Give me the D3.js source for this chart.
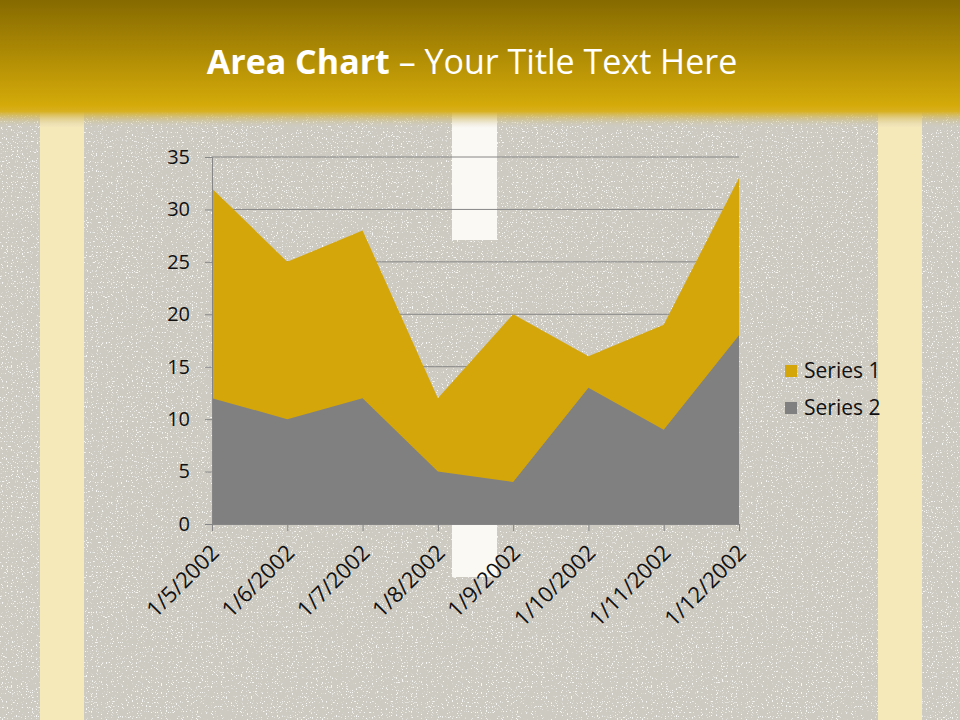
<!DOCTYPE html>
<html><head><meta charset="utf-8">
<script src="https://cdn.jsdelivr.net/npm/d3@7"></script>
<style>html,body{margin:0;padding:0;background:#cfccc3;}svg{display:block;}</style>
</head><body>
<script>
const categories = ["1/5/2002","1/6/2002","1/7/2002","1/8/2002","1/9/2002","1/10/2002","1/11/2002","1/12/2002"];
const series1 = [32, 25, 28, 12, 20, 16, 19, 33];
const series2 = [12, 10, 12, 5, 4, 13, 9, 18];
const seriesNames = ["Series 1", "Series 2"];
const yTicks = [0, 5, 10, 15, 20, 25, 30, 35];

const W = 960, H = 720;
const svg = d3.select("body").append("svg").attr("width", W).attr("height", H);
const defs = svg.append("defs");

// header gradient
const hg = defs.append("linearGradient").attr("id","hdr").attr("x1",0).attr("y1",0).attr("x2",0).attr("y2",1);
hg.append("stop").attr("offset","0%").attr("stop-color","#866a00");
hg.append("stop").attr("offset","82%").attr("stop-color","#d4aa09");
hg.append("stop").attr("offset","87%").attr("stop-color","#d8b020");
hg.append("stop").attr("offset","100%").attr("stop-color","#cfccc3").attr("stop-opacity",0);

// speckle filter
const f = defs.append("filter").attr("id","speck").attr("x",0).attr("y",0).attr("width","100%").attr("height","100%");
f.append("feTurbulence").attr("type","fractalNoise").attr("baseFrequency",0.8).attr("numOctaves",1).attr("seed",7).attr("result","n");
f.append("feColorMatrix").attr("in","n").attr("type","matrix")
  .attr("values","0 0 0 0 1  0 0 0 0 1  0 0 0 0 1  12 0 0 0 -7.4");

// background
svg.append("rect").attr("width",W).attr("height",H).attr("fill","#cdcac1");
svg.append("rect").attr("width",W).attr("height",H).attr("filter","url(#speck)").attr("opacity",0.85);
// yellow side stripes
svg.append("rect").attr("x",40).attr("y",0).attr("width",44).attr("height",H).attr("fill","#f6e9b9");
svg.append("rect").attr("x",878).attr("y",0).attr("width",44).attr("height",H).attr("fill","#f6e9b9");
// white center dashes
svg.append("rect").attr("x",452).attr("y",100).attr("width",45).attr("height",140).attr("fill","#fbf9f4");
svg.append("rect").attr("x",452).attr("y",440).attr("width",45).attr("height",137).attr("fill","#fbf9f4");

// header
svg.append("rect").attr("x",0).attr("y",0).attr("width",W).attr("height",128).attr("fill","url(#hdr)");

const title = svg.append("text").attr("x",472).attr("y",74).attr("text-anchor","middle")
  .attr("font-family","'Open Sans', sans-serif").attr("font-size",34).attr("fill","#ffffff");
title.append("tspan").attr("font-weight","bold").text("Area Chart");
title.append("tspan").text(" \u2013 Your Title Text Here");

// chart
const x = d3.scalePoint().domain(categories).range([212, 739]);
const y = d3.scaleLinear().domain([0, 35]).range([524, 157]);
const fontF = "'Open Sans', sans-serif";

// gridlines
svg.append("g").selectAll("line").data(yTicks.filter(d => d > 0)).join("line")
  .attr("x1", 212).attr("x2", 739).attr("y1", d => y(d)).attr("y2", d => y(d))
  .attr("stroke", "#868686").attr("stroke-width", 1);

const area = d3.area().x((d, i) => x(categories[i])).y0(y(0)).y1(d => y(d));
svg.append("path").datum(series1).attr("d", area).attr("fill", "#d4a60a");
svg.append("path").datum(series2).attr("d", area).attr("fill", "#808080");

// y axis
const yAxis = svg.append("g").attr("transform", "translate(212,0)")
  .call(d3.axisLeft(y).tickValues(yTicks).tickSize(7).tickPadding(15));
yAxis.select(".domain").attr("stroke", "#868686");
yAxis.selectAll(".tick line").attr("stroke", "#868686");
yAxis.selectAll(".tick text").attr("font-family", fontF).attr("font-size", 20).attr("fill", "#111");

// x axis
const xAxis = svg.append("g").attr("transform", "translate(0,524)")
  .call(d3.axisBottom(x).tickSize(7).tickSizeOuter(0));
xAxis.select(".domain").attr("stroke", "#868686");
xAxis.selectAll(".tick line").attr("stroke", "#868686");
xAxis.selectAll(".tick text").attr("font-family", fontF).attr("font-size", 22).attr("fill", "#111")
  .attr("text-anchor", "end").attr("dy", null).attr("y", 0)
  .attr("transform", "translate(8,30) rotate(-45)");

// legend
const colors = ["#d4a60a", "#808080"];
const lg = svg.append("g");
seriesNames.forEach((n, i) => {
  const yy = 371 + i * 37;
  lg.append("rect").attr("x", 785).attr("y", yy - 6).attr("width", 12).attr("height", 12).attr("fill", colors[i]);
  lg.append("text").attr("x", 804).attr("y", yy + 7).attr("font-family", fontF).attr("font-size", 21).attr("fill", "#111").text(n);
});
</script>
</body></html>
